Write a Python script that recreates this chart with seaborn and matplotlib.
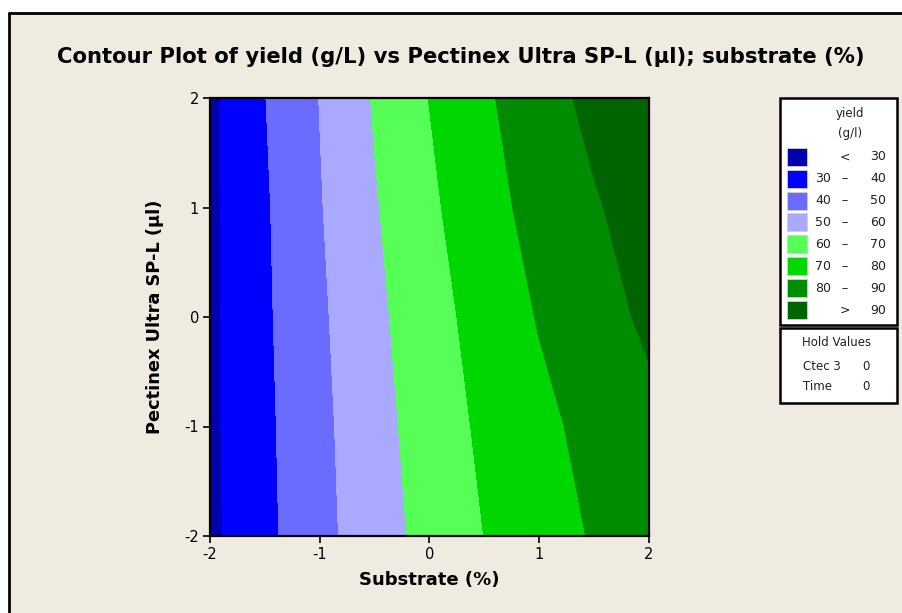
import numpy as np
import pandas as pd
import seaborn as sns
import matplotlib.pyplot as plt
from matplotlib.patches import Rectangle
from matplotlib.lines import Line2D

# yield (g/L) at a coarse grid
substrate = [-2, -1.5, -1, -0.5, 0, 0.5, 1, 1.5, 2]
pectinex = [-2, -1, 0, 1, 2]
yield_pm2 = [27.8, 37.6, 47.1, 55.6, 63.1, 70.1, 75.6, 80.8, 85.0]
yield_pm1 = [28.0, 38.0, 47.6, 56.5, 64.6, 71.8, 77.6, 82.9, 87.6]
yield_p0 = [27.9, 38.5, 48.4, 57.7, 66.2, 73.8, 80.6, 86.3, 91.7]
yield_p1 = [28.0, 38.9, 49.4, 59.2, 68.2, 76.5, 83.3, 89.1, 94.4]
yield_p2 = [27.9, 39.8, 50.2, 60.8, 70.2, 78.5, 85.9, 92.6, 98.9]

levels = [30, 40, 50, 60, 70, 80, 90]
legend_left = ["", "30", "40", "50", "60", "70", "80", ""]
legend_mid = ["<", "\u2013", "\u2013", "\u2013", "\u2013", "\u2013", "\u2013", ">"]
legend_right = ["30", "40", "50", "60", "70", "80", "90", "90"]
colours = ["#0000AE", "#0000FF", "#6B6BFF", "#A9A9FF",
           "#55FF55", "#00D600", "#008C00", "#006400"]

title = "Contour Plot of yield (g/L) vs Pectinex Ultra SP-L (\u00b5l); substrate (%)"
bg = "#EFEBE1"

sns.set_theme(style="ticks")
plt.rcParams['font.family'] = ['DejaVu Sans']
plt.rcParams['axes.unicode_minus'] = False
palette = sns.color_palette(colours)

grid = pd.DataFrame([yield_pm2, yield_pm1, yield_p0, yield_p1, yield_p2],
                    index=pectinex, columns=substrate)

W, H = 903, 613
fig = plt.figure(figsize=(W / 100, H / 100), dpi=100, facecolor="white")


def px(x, y):
    return x / W, 1 - y / H


# beige panel with the black frame on left and top
fig.add_artist(Rectangle(px(9, H + 5), (W + 5) / W, (H + 5 - 13) / H,
                         transform=fig.transFigure, facecolor=bg, edgecolor="none", zorder=0))
fig.add_artist(Line2D([9 / W, 9 / W], [1 - 13 / H, 0], transform=fig.transFigure,
                      color="black", lw=2))
fig.add_artist(Line2D([9 / W, 1], [1 - 13 / H, 1 - 13 / H], transform=fig.transFigure,
                      color="black", lw=2))

ax = fig.add_axes([210 / W, 1 - 536 / H, 439 / W, 438 / H])
ax.set_facecolor(bg)
bounds = [-1000] + levels + [1000]
ax.contourf(grid.columns.values, grid.index.values, grid.values,
            levels=bounds, colors=palette, antialiased=False)
ax.set_xlim(-2, 2)
ax.set_ylim(-2, 2)
ax.set_xticks([-2, -1, 0, 1, 2])
ax.set_yticks([-2, -1, 0, 1, 2])
ax.tick_params(direction="out", length=5, width=1.2, labelsize=10.5, color="black",
               labelcolor="black", pad=3)
for s in ax.spines.values():
    s.set_linewidth(1.6)
    s.set_color("black")
ax.set_xlabel("Substrate (%)", fontsize=13, fontweight="bold", color="black")
ax.xaxis.set_label_coords(0.5, -0.1)
ax.xaxis.label.set_va("center")
ax.set_ylabel("Pectinex Ultra SP-L (\u00b5l)", fontsize=12.8, fontweight="bold", color="black")
ax.yaxis.set_label_coords(-0.125, 0.5)
ax.yaxis.label.set_va("center")

fig.text(*px(461, 57), title, ha="center", va="center", fontsize=15.2,
         fontweight="bold", color="black")

# legend boxes
txt = "#202020"
fig.add_artist(Rectangle(px(780, 325), 117 / W, 227 / H, transform=fig.transFigure,
                         facecolor="white", edgecolor="black", lw=1.8))
fig.add_artist(Rectangle(px(780, 403), 117 / W, 75 / H, transform=fig.transFigure,
                         facecolor="white", edgecolor="black", lw=1.8))
fig.text(*px(850, 113), "yield", ha="center", va="center", fontsize=8.5, color=txt)
fig.text(*px(850, 133), "(g/l)", ha="center", va="center", fontsize=8.5, color=txt)
for i, c in enumerate(palette):
    yc = 156.7 + 21.9 * i
    fig.add_artist(Rectangle(px(787, yc + 9), 20 / W, 18 / H, transform=fig.transFigure,
                             facecolor=c, edgecolor="#d0d0d0", lw=0.6))
    if legend_left[i]:
        fig.text(*px(831, yc), legend_left[i], ha="right", va="center", fontsize=9, color=txt)
    fig.text(*px(845, yc), legend_mid[i], ha="center", va="center", fontsize=9, color=txt)
    fig.text(*px(886, yc), legend_right[i], ha="right", va="center", fontsize=9, color=txt)

fig.text(*px(837, 342), "Hold Values", ha="center", va="center", fontsize=8.5, color=txt)
fig.text(*px(803, 366), "Ctec 3", ha="left", va="center", fontsize=8.5, color=txt)
fig.text(*px(866, 366), "0", ha="center", va="center", fontsize=8.5, color=txt)
fig.text(*px(803, 387), "Time", ha="left", va="center", fontsize=8.5, color=txt)
fig.text(*px(866, 387), "0", ha="center", va="center", fontsize=8.5, color=txt)

fig.savefig("out.png", dpi=100, facecolor=fig.get_facecolor())
